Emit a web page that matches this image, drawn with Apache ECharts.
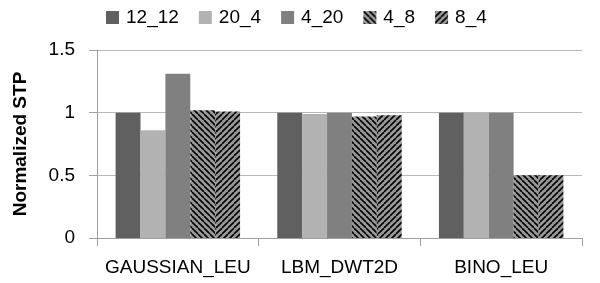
<!DOCTYPE html>
<html>
<head>
<meta charset="utf-8">
<script src="https://cdn.jsdelivr.net/npm/echarts@6/dist/echarts.min.js"></script>
<style>
  html, body { margin: 0; padding: 0; background: #fff; }
  #chart { width: 600px; height: 283px; }
</style>
</head>
<body>
<div id="chart"></div>
<script>
  var categories = ['GAUSSIAN_LEU', 'LBM_DWT2D', 'BINO_LEU'];
  var seriesNames = ['12_12', '20_4', '4_20', '4_8', '8_4'];
  var values_12_12 = [1, 1, 1];
  var values_20_4 = [0.86, 0.99, 1];
  var values_4_20 = [1.31, 1, 1];
  var values_4_8 = [1.02, 0.97, 0.5];
  var values_8_4 = [1.01, 0.98, 0.5];
  var yTicks = [0, 0.5, 1, 1.5];

  // diagonal stripe fill, dir 1 = "\\" , -1 = "/"
  function stripes(dir) {
    var c = document.createElement('canvas');
    c.width = 6; c.height = 6;
    var g = c.getContext('2d');
    g.fillStyle = '#9a9a9a';
    g.fillRect(0, 0, 6, 6);
    g.strokeStyle = '#000';
    g.lineWidth = 1.6;
    for (var k = -6; k <= 12; k += 6) {
      g.beginPath();
      if (dir > 0) { g.moveTo(k, 0); g.lineTo(k + 6, 6); }
      else { g.moveTo(k, 6); g.lineTo(k + 6, 0); }
      g.stroke();
    }
    return { image: c, repeat: 'repeat' };
  }

  var fills = ['#606060', '#b2b2b2', '#808080', stripes(1), stripes(-1)];
  var allValues = [values_12_12, values_20_4, values_4_20, values_4_8, values_8_4];

  var chart = echarts.init(document.getElementById('chart'));
  chart.setOption({
    animation: false,
    textStyle: { fontFamily: 'Liberation Sans, Arial, sans-serif' },
    legend: {
      top: 3,
      left: 101,
      itemWidth: 13,
      itemHeight: 13,
      itemGap: 20,
      icon: 'rect',
      textStyle: { fontSize: 19, color: '#000', padding: [0, 0, 0, 2] },
      data: seriesNames
    },
    grid: { left: 97, right: 18, top: 50, bottom: 45 },
    xAxis: {
      type: 'category',
      data: categories,
      axisLine: { lineStyle: { color: '#a0a0a0' } },
      axisTick: { show: true, length: 8, lineStyle: { color: '#a0a0a0' } },
      axisLabel: { fontSize: 19, color: '#000', margin: 20, interval: 0 }
    },
    yAxis: {
      type: 'value',
      min: yTicks[0],
      max: yTicks[yTicks.length - 1],
      interval: 0.5,
      name: 'Normalized STP',
      nameLocation: 'middle',
      nameGap: 67,
      nameTextStyle: { fontSize: 19, fontWeight: 'bold', color: '#000' },
      axisLine: { show: true, lineStyle: { color: '#a0a0a0' } },
      axisTick: { show: true, length: 8, lineStyle: { color: '#a0a0a0' } },
      axisLabel: { fontSize: 19, color: '#000', margin: 22 },
      splitLine: { lineStyle: { color: '#b8b8b8' } }
    },
    series: seriesNames.map(function (n, i) {
      return {
        name: n,
        type: 'bar',
        data: allValues[i],
        barGap: '0%',
        barCategoryGap: '23%',
        itemStyle: { color: fills[i] }
      };
    })
  });
</script>
</body>
</html>
